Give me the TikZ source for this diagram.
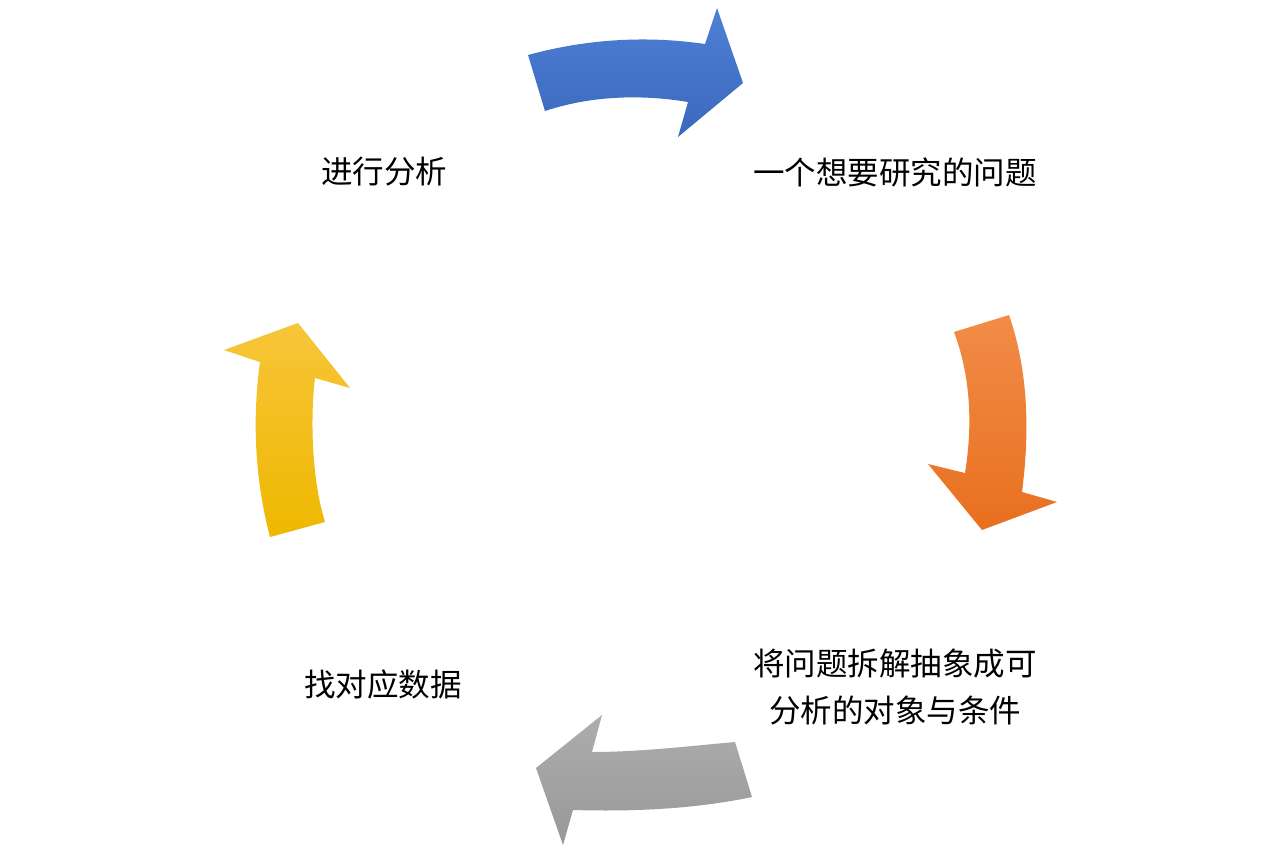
\documentclass[tikz,border=0pt]{standalone}
\usepackage{fontspec}
\newfontfamily\cjk{Noto Sans CJK SC}
\definecolor{bluetop}{HTML}{4E80D6}
\definecolor{bluebot}{HTML}{3A68BC}
\definecolor{orgtop}{HTML}{F28C48}
\definecolor{orgbot}{HTML}{E8701F}
\definecolor{graytop}{HTML}{ADADAD}
\definecolor{graybot}{HTML}{989898}
\definecolor{yeltop}{HTML}{F7C53A}
\definecolor{yelbot}{HTML}{EEB800}
\begin{document}
\begin{tikzpicture}[x=1pt,y=-1pt,
  lbl/.style={font=\cjk\fontsize{31.5}{47}\selectfont, text=black, align=center, inner sep=0pt},
  arr/.style={draw=none}]
\useasboundingbox (0,0) rectangle (1280,853);
\fill[white] (0,0) rectangle (1280,853);
% blue arrow
\shade[arr, top color=bluetop, bottom color=bluebot]
  (528,55) .. controls (590,38) and (650,36) .. (705,44) -- (717,8) -- (743,83) -- (678,137) -- (688,102)
  .. controls (640,94) and (590,96) .. (545,111) -- cycle;
% orange arrow
\shade[arr, top color=orgtop, bottom color=orgbot]
  (954,332) -- (1009,315) .. controls (1028,370) and (1030,430) .. (1022,492) -- (1057,502) -- (982,530)
  -- (928,464) -- (965,473) .. controls (972,430) and (972,380) .. (954,332) -- cycle;
% gray arrow
\shade[arr, top color=graytop, bottom color=graybot]
  (735,742) .. controls (690,746) and (640,752) .. (592,752) -- (602,715) -- (536,768) -- (563,845)
  -- (573,810) .. controls (640,812) and (700,808) .. (752,797) -- cycle;
% yellow arrow
\shade[arr, top color=yeltop, bottom color=yelbot]
  (270,537) .. controls (255,480) and (252,420) .. (260,362) -- (224,350) -- (298,323) -- (350,388)
  -- (315,378) .. controls (310,420) and (312,480) .. (325,522) -- cycle;
% labels
\node[lbl] (analyze) at (384,172) {进行分析};
\node[lbl] (problem) at (895,172) {一个想要研究的问题};
\node[lbl] (decompose) at (895,687) {将问题拆解抽象成可\\分析的对象与条件};
\node[lbl] (data) at (383,685) {找对应数据};
\end{tikzpicture}
\end{document}
